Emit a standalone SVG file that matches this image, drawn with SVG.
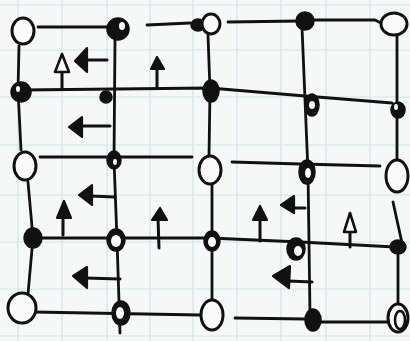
<svg xmlns="http://www.w3.org/2000/svg" width="410" height="341" viewBox="0 0 410 341">
<style>
.grid line{stroke:#cfe5ee;stroke-width:1.2}
.ln{fill:none;stroke:#111;stroke-width:2.8;stroke-linecap:round;stroke-linejoin:round}
.open{fill:#fafafa;stroke:#111;stroke-width:3}
.fill{fill:#111;stroke:#111;stroke-width:1.5}
.hole{fill:#fafafa}
.stem{fill:none;stroke:#111;stroke-width:3;stroke-linecap:round}
.hf{fill:#111;stroke:#111;stroke-width:2.2;stroke-linejoin:round}
.ho{fill:#fafafa;stroke:#111;stroke-width:2.6;stroke-linejoin:round}
</style>
<rect width="410" height="341" fill="#f6f7f7"/>
<g class="grid">
<line x1="18" y1="0" x2="18" y2="341"/><line x1="62" y1="0" x2="62" y2="341"/><line x1="107" y1="0" x2="107" y2="341"/><line x1="150" y1="0" x2="150" y2="341"/><line x1="193" y1="0" x2="193" y2="341"/><line x1="237" y1="0" x2="237" y2="341"/><line x1="281" y1="0" x2="281" y2="341"/><line x1="326" y1="0" x2="326" y2="341"/><line x1="370" y1="0" x2="370" y2="341"/>
<line x1="0" y1="5" x2="410" y2="5"/><line x1="0" y1="50" x2="410" y2="50"/><line x1="0" y1="97" x2="410" y2="97"/><line x1="0" y1="145" x2="410" y2="145"/><line x1="0" y1="195" x2="410" y2="195"/><line x1="0" y1="242" x2="410" y2="242"/><line x1="0" y1="289" x2="410" y2="289"/><line x1="0" y1="336" x2="410" y2="336"/>
</g>
<g id="connectors" class="ln">
<polyline points="38,27 110,27"/>
<polyline points="147,25 190,23"/>
<polyline points="228,22 300,21"/>
<polyline points="315,20 375,20 383,24"/>
<polyline points="22,90 210,88 305,96 392,103"/>
<polyline points="40,157 192,157"/>
<polyline points="232,162 300,164 380,166"/>
<polyline points="32,238 210,238 300,242 395,247"/>
<polyline points="33,312 200,315"/>
<polyline points="235,318 305,319"/>
<polyline points="318,322 392,322"/>
<polyline points="19,46 18,90 21,150"/>
<polyline points="28,182 33,238 28,294"/>
<polyline points="115,40 114,160 117,240 120,333"/>
<polyline points="208,35 210,90 209,156"/>
<polyline points="212,185 212,240 212,300"/>
<polyline points="302,27 308,172 310,315"/>
<polyline points="397,36 397,160"/>
<polyline points="393,202 402,243"/>
<polyline points="398,255 398,303"/>
<path class="stem" d="M62,88 L62,70"/><polygon class="ho" points="55,72 62,54 69,72"/>
<path class="stem" d="M107,60 L85,60"/><polygon class="hf" points="87,48 75,61 87,72"/>
<path class="stem" d="M157,87 L157,68"/><polygon class="hf" points="151,69 157,57 164,69"/>
<path class="stem" d="M110,126 L80,126"/><polygon class="hf" points="82,117 69,127 82,137"/>
<path class="stem" d="M115,197 L90,196"/><polygon class="hf" points="92,185 79,195 92,205"/>
<path class="stem" d="M63,235 L63,215"/><polygon class="hf" points="57,218 64,201 71,218"/>
<path class="stem" d="M159,248 L158,218"/><polygon class="hf" points="152,220 160,208 167,220"/>
<path class="stem" d="M120,279 L85,278"/><polygon class="hf" points="87,267 73,276 87,288"/>
<path class="stem" d="M260,241 L260,218"/><polygon class="hf" points="253,220 260,206 267,220"/>
<path class="stem" d="M305,208 L292,208"/><polygon class="hf" points="294,196 281,205 294,213"/>
<path class="stem" d="M350,247 L350,231"/><polygon class="ho" points="344,232 350,213 356,232"/>
<path class="stem" d="M312,282 L288,281"/><polygon class="hf" points="290,266 273,276 289,288"/>
</g>
<g id="n00"><ellipse class="open" cx="23" cy="31" rx="11" ry="13"/></g>
<g id="n01"><ellipse class="fill" cx="118" cy="29" rx="11" ry="11"/><ellipse class="hole" cx="122" cy="26" rx="3" ry="4"/></g>
<g id="n02a"><ellipse class="fill" cx="198" cy="25" rx="7" ry="6"/></g>
<g id="n02"><ellipse class="open" cx="211" cy="24" rx="9" ry="10"/></g>
<g id="n03"><ellipse class="fill" cx="305" cy="21" rx="9" ry="9"/></g>
<g id="n04"><ellipse class="open" cx="394" cy="24" rx="13" ry="11"/></g>
<g id="n10"><ellipse class="fill" cx="21" cy="92" rx="10" ry="10"/><ellipse class="hole" cx="18" cy="89" rx="2" ry="3"/></g>
<g id="n11"><ellipse class="fill" cx="106" cy="97" rx="6" ry="6"/></g>
<g id="n12"><ellipse class="fill" cx="211" cy="91" rx="8" ry="11"/></g>
<g id="n13"><ellipse class="fill" cx="312" cy="105" rx="7" ry="11"/><ellipse class="hole" cx="312" cy="105" rx="3" ry="4"/></g>
<g id="n14"><ellipse class="fill" cx="398" cy="110" rx="7" ry="8"/><ellipse class="hole" cx="396" cy="107" rx="2" ry="3"/></g>
<g id="n20"><ellipse class="open" cx="25" cy="166" rx="11" ry="14"/></g>
<g id="n21"><ellipse class="fill" cx="114" cy="160" rx="7" ry="9"/><ellipse class="hole" cx="115" cy="162" rx="2" ry="3"/></g>
<g id="n22"><ellipse class="open" cx="210" cy="170" rx="11" ry="14"/></g>
<g id="n23"><ellipse class="fill" cx="307" cy="172" rx="8" ry="12"/><ellipse class="hole" cx="308" cy="173" rx="3" ry="5"/></g>
<g id="n24"><ellipse class="open" cx="397" cy="176" rx="11" ry="16"/></g>
<g id="n30"><ellipse class="fill" cx="33" cy="238" rx="9" ry="10"/></g>
<g id="n31"><ellipse class="fill" cx="116" cy="240" rx="9" ry="11"/><ellipse class="hole" cx="116" cy="241" rx="5" ry="6"/></g>
<g id="n32"><ellipse class="fill" cx="212" cy="241" rx="8" ry="10"/><ellipse class="hole" cx="212" cy="242" rx="4" ry="5"/></g>
<g id="n33"><ellipse class="fill" cx="296" cy="249" rx="9" ry="11"/><ellipse class="hole" cx="298" cy="251" rx="4" ry="5"/></g>
<g id="n34"><ellipse class="fill" cx="398" cy="247" rx="8" ry="7"/></g>
<g id="n40"><ellipse class="open" cx="22" cy="308" rx="14" ry="15"/></g>
<g id="n41"><ellipse class="fill" cx="121" cy="313" rx="9" ry="12"/><ellipse class="hole" cx="120" cy="313" rx="4" ry="6"/></g>
<g id="n42"><ellipse class="open" cx="212" cy="315" rx="11" ry="15"/></g>
<g id="n43"><ellipse class="fill" cx="313" cy="320" rx="8" ry="11"/></g>
<g id="n44"><ellipse class="open" cx="398" cy="318" rx="10" ry="14"/><ellipse class="ho" cx="400" cy="320" rx="5" ry="9"/></g>
</svg>
